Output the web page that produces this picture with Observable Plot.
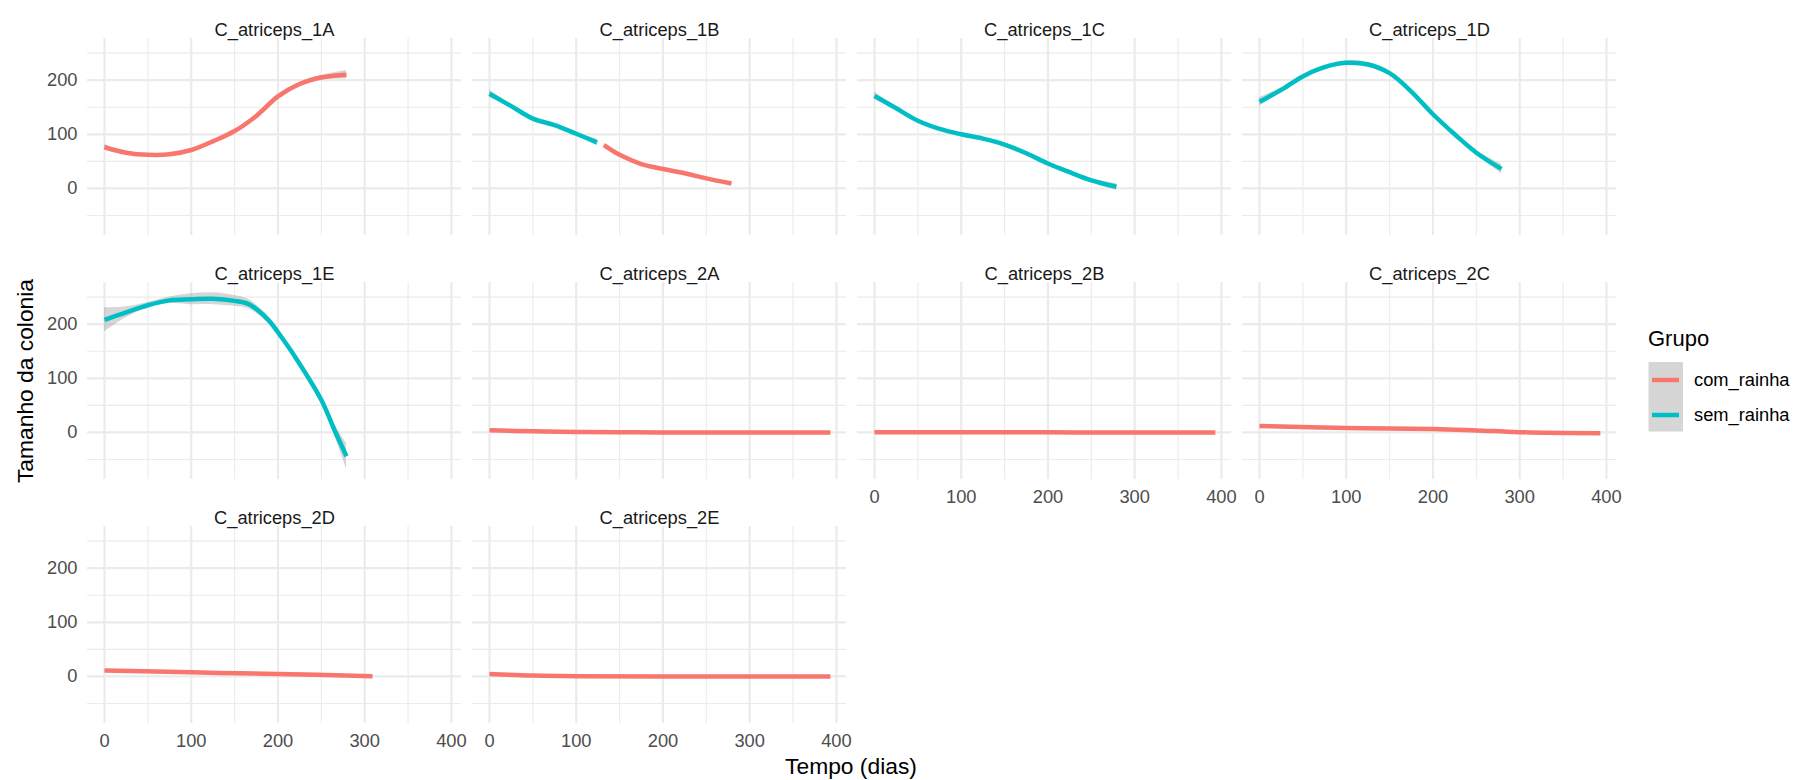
<!DOCTYPE html>
<html>
<head>
<meta charset="utf-8">
<script src="https://cdn.jsdelivr.net/npm/d3@7"></script>
<script src="https://cdn.jsdelivr.net/npm/@observablehq/plot@0.6"></script>
<style>
  body { margin: 0; background: #fff; }
  #chart { position: relative; width: 1811px; height: 780px; font-family: "Liberation Sans", Arial, sans-serif; }
  #chart svg { position: absolute; left: 0; top: 0; }
</style>
</head>
<body>
<div id="chart"></div>
<script>
// ---- data ----
const paineis = ["C_atriceps_1A", "C_atriceps_1B", "C_atriceps_1C", "C_atriceps_1D", "C_atriceps_1E",
                 "C_atriceps_2A", "C_atriceps_2B", "C_atriceps_2C", "C_atriceps_2D", "C_atriceps_2E"];
const grupos = ["com_rainha", "sem_rainha"];
const cores = ["#F8766D", "#00BFC4"];

const ticksX = [0, 100, 200, 300, 400];
const ticksXmenor = [50, 150, 250, 350];
const ticksY = [0, 100, 200];
const ticksYmenor = [-50, 50, 150, 250];

// C_atriceps_1A  com_rainha
const a1A_com_dias = [0, 25, 50, 75, 100, 125, 150, 175, 200, 225, 250, 279];
const a1A_com_tam  = [76, 66, 62, 63, 71, 87, 106, 134, 170, 193, 205, 210];
const a1A_com_ep   = [5, 3, 2, 2, 2, 2, 2, 3, 3, 3, 4, 8];
// C_atriceps_1B  sem_rainha / com_rainha
const a1B_sem_dias = [0, 25, 50, 75, 100, 124];
const a1B_sem_tam  = [175, 152, 129, 117, 101, 85];
const a1B_sem_ep   = [7, 3, 3, 3, 3, 6];
const a1B_com_dias = [132, 150, 175, 200, 225, 250, 279];
const a1B_com_tam  = [80, 62, 45, 36, 28, 18.5, 9];
const a1B_com_ep   = [3, 2, 2, 2, 2, 2, 3];
// C_atriceps_1C  sem_rainha
const a1C_sem_dias = [0, 25, 50, 75, 100, 125, 150, 175, 200, 225, 250, 279];
const a1C_sem_tam  = [171, 148, 125, 110, 100, 92, 81, 65, 46, 30, 15, 3];
const a1C_sem_ep   = [7, 3, 2, 2, 2, 2, 2, 2, 2, 2, 3, 6];
// C_atriceps_1D  sem_rainha
const a1D_sem_dias = [0, 25, 50, 75, 100, 125, 150, 175, 200, 225, 250, 279];
const a1D_sem_tam  = [160, 182, 207, 224, 232, 229, 213, 179, 137, 100, 66, 36];
const a1D_sem_ep   = [8, 4, 3, 3, 4, 4, 3, 3, 3, 3, 4, 9];
// C_atriceps_1E  sem_rainha
const a1E_sem_dias = [0, 25, 50, 75, 100, 125, 150, 165, 175, 190, 200, 220, 250, 265, 279];
const a1E_sem_tam  = [208, 222, 235, 244, 246, 247, 243, 238, 228, 206, 185, 139, 60, 5, -44];
const a1E_sem_ep   = [22, 10, 5, 6, 10, 11, 10, 9, 8, 7, 6, 6, 7, 10, 24];
// C_atriceps_2A  com_rainha
const a2A_com_dias = [0, 50, 100, 150, 200, 300, 393];
const a2A_com_tam  = [4, 2, 0.7, 0.2, 0, 0, 0];
const a2A_com_ep   = [1, 1, 1, 1, 1, 1, 1];
// C_atriceps_2B  com_rainha
const a2B_com_dias = [0, 100, 200, 300, 393];
const a2B_com_tam  = [0.3, 0.2, 0.1, 0, 0];
const a2B_com_ep   = [1, 1, 1, 1, 1];
// C_atriceps_2C  com_rainha
const a2C_com_dias = [0, 100, 200, 250, 300, 393];
const a2C_com_tam  = [12, 8, 6.5, 3.7, 0.5, -1.5];
const a2C_com_ep   = [1, 1, 1, 1, 1, 1];
// C_atriceps_2D  com_rainha
const a2D_com_dias = [0, 100, 200, 309];
const a2D_com_tam  = [11, 7.5, 4.5, 0.5];
const a2D_com_ep   = [1, 1, 1, 1];
// C_atriceps_2E  com_rainha
const a2E_com_dias = [0, 50, 100, 200, 393];
const a2E_com_tam  = [4.5, 1.5, 0.3, 0, 0];
const a2E_com_ep   = [1, 1, 1, 1, 1];

// ---- table built from the arrays ----
const series = [
  [0, "com_rainha", a1A_com_dias, a1A_com_tam, a1A_com_ep],
  [1, "sem_rainha", a1B_sem_dias, a1B_sem_tam, a1B_sem_ep],
  [1, "com_rainha", a1B_com_dias, a1B_com_tam, a1B_com_ep],
  [2, "sem_rainha", a1C_sem_dias, a1C_sem_tam, a1C_sem_ep],
  [3, "sem_rainha", a1D_sem_dias, a1D_sem_tam, a1D_sem_ep],
  [4, "sem_rainha", a1E_sem_dias, a1E_sem_tam, a1E_sem_ep],
  [5, "com_rainha", a2A_com_dias, a2A_com_tam, a2A_com_ep],
  [6, "com_rainha", a2B_com_dias, a2B_com_tam, a2B_com_ep],
  [7, "com_rainha", a2C_com_dias, a2C_com_tam, a2C_com_ep],
  [8, "com_rainha", a2D_com_dias, a2D_com_tam, a2D_com_ep],
  [9, "com_rainha", a2E_com_dias, a2E_com_tam, a2E_com_ep]
];
const rows = series.flatMap(([p, g, dias, tam, ep]) => dias.map((d, i) => ({
  col: p % 4, lin: Math.floor(p / 4), grupo: g, key: paineis[p] + g,
  x: d, y: tam[i], lo: tam[i] - ep[i], hi: tam[i] + ep[i]
})));
const tabPaineis = paineis.map((nome, p) => ({nome, col: p % 4, lin: Math.floor(p / 4)}));

const FONT = "'Liberation Sans', Arial, sans-serif";

const plot = Plot.plot({
  width: 1811,
  height: 780,
  marginLeft: 86,
  marginRight: 195,
  marginTop: 37,
  marginBottom: 55,
  style: {fontFamily: FONT, fontSize: "18.3px", background: "white", overflow: "visible"},
  fx: {axis: null, domain: [0, 1, 2, 3], paddingInner: 0.0293, paddingOuter: 0},
  fy: {axis: null, domain: [0, 1, 2], paddingInner: 0.1918, paddingOuter: 0},
  x: {domain: [-19.6, 411.6], axis: null},
  y: {domain: [-87, 277], axis: null},
  color: {domain: grupos, range: cores},
  marks: [
    Plot.gridX({ticks: ticksXmenor, stroke: "#EBEBEB", strokeOpacity: 1, strokeWidth: 1.1}),
    Plot.gridY({ticks: ticksYmenor, stroke: "#EBEBEB", strokeOpacity: 1, strokeWidth: 1.1}),
    Plot.gridX({ticks: ticksX, stroke: "#EBEBEB", strokeOpacity: 1, strokeWidth: 2.2}),
    Plot.gridY({ticks: ticksY, stroke: "#EBEBEB", strokeOpacity: 1, strokeWidth: 2.2}),
    Plot.axisX({ticks: ticksX, tickSize: 0, tickPadding: 10, fontSize: 18.3, fill: "#4D4D4D",
                label: null, facetAnchor: "bottom-empty"}),
    Plot.axisY({ticks: ticksY, tickSize: 0, tickPadding: 10, fontSize: 18.3, fill: "#4D4D4D",
                label: null, facetAnchor: "left-empty"}),
    Plot.areaY(rows, {x: "x", y1: "lo", y2: "hi", z: "key", fx: "col", fy: "lin",
                      fill: "#999999", fillOpacity: 0.4, curve: "catmull-rom"}),
    Plot.line(rows, {x: "x", y: "y", z: "key", fx: "col", fy: "lin", stroke: "grupo",
                     strokeWidth: 4.5, strokeLinecap: "butt", curve: "catmull-rom"}),
    Plot.text(tabPaineis, {fx: "col", fy: "lin", text: "nome", frameAnchor: "top", dy: -16,
                           fontSize: 18.3, fill: "#1A1A1A"})
  ]
});

const chart = document.getElementById("chart");
chart.appendChild(plot);

// ---- axis titles and legend (overlay) ----
const ov = d3.select(chart).append("svg")
  .attr("width", 1811).attr("height", 780)
  .style("pointer-events", "none")
  .attr("font-family", FONT);

ov.append("text").attr("x", 851).attr("y", 773.5).attr("text-anchor", "middle")
  .attr("font-size", 22.8).attr("fill", "#000").text("Tempo (dias)");
ov.append("text").attr("transform", "translate(33,381) rotate(-90)").attr("text-anchor", "middle")
  .attr("font-size", 22.8).attr("fill", "#000").text("Tamanho da colonia");

const lg = ov.append("g");
lg.append("text").attr("x", 1648).attr("y", 346).attr("font-size", 22).attr("fill", "#000").text("Grupo");
lg.append("rect").attr("x", 1648.5).attr("y", 362).attr("width", 34.5).attr("height", 69.5).attr("fill", "#D6D6D6");
grupos.forEach((g, i) => {
  const yc = 380 + i * 35;
  lg.append("line").attr("x1", 1652).attr("x2", 1679).attr("y1", yc).attr("y2", yc)
    .attr("stroke", cores[i]).attr("stroke-width", 4.5);
  lg.append("text").attr("x", 1694).attr("y", yc).attr("dy", "0.35em").attr("font-size", 18.3)
    .attr("fill", "#000").text(g);
});
</script>
</body>
</html>
